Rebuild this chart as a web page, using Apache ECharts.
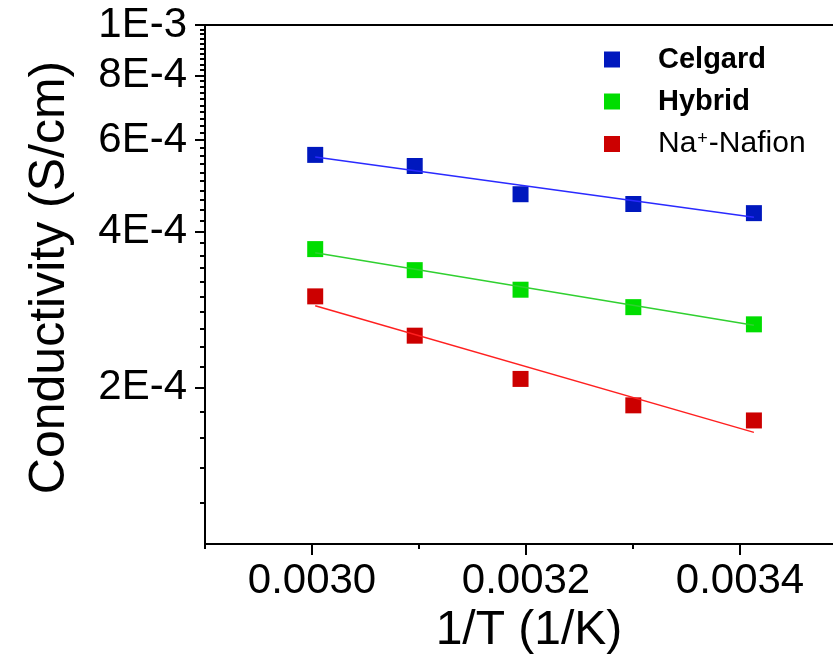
<!DOCTYPE html>
<html>
<head>
<meta charset="utf-8">
<script src="https://cdn.jsdelivr.net/npm/echarts@6/dist/echarts.min.js"></script>
<style>
html,body{margin:0;padding:0;background:#fff;}
#chart{width:833px;height:663px;}
</style>
</head>
<body>
<div id="chart"></div>
<script>
// ---- data ----
const invT = [0.0030030, 0.0030960, 0.0031949, 0.0033003, 0.0034130];
const celgard = [5.62e-4, 5.35e-4, 4.72e-4, 4.52e-4, 4.34e-4];
const hybrid  = [3.70e-4, 3.37e-4, 3.09e-4, 2.86e-4, 2.65e-4];
const nafion  = [3.00e-4, 2.52e-4, 2.08e-4, 1.85e-4, 1.73e-4];
// linear fits (end points)
const fitX = [0.0030030, 0.0034130];
const celgardFit = [5.57e-4, 4.26e-4];
const hybridFit  = [3.64e-4, 2.64e-4];
const nafionFit  = [2.877e-4, 1.641e-4];
// ticks
const xMajorTicks = [0.0030, 0.0032, 0.0034];
const xMinorTicks = [0.0029, 0.0031, 0.0033, 0.0035];
const yMajorTicks = [2e-4, 4e-4, 6e-4, 8e-4, 1e-3];
const yMinorTicks = [1.2e-4,1.4e-4,1.6e-4,1.8e-4,
  2.2e-4,2.4e-4,2.6e-4,2.8e-4,3.0e-4,3.2e-4,3.4e-4,3.6e-4,3.8e-4,
  4.2e-4,4.4e-4,4.6e-4,4.8e-4,5.0e-4,5.2e-4,5.4e-4,5.6e-4,5.8e-4,
  6.2e-4,6.4e-4,6.6e-4,6.8e-4,7.0e-4,7.2e-4,7.4e-4,7.6e-4,7.8e-4,
  8.2e-4,8.4e-4,8.6e-4,8.8e-4,9.0e-4,9.2e-4,9.4e-4,9.6e-4,9.8e-4];
const names = ['Celgard', 'Hybrid', 'Na+-Nafion'];

const FONT = 'Liberation Sans, Arial, sans-serif';
const markerColors = ['#0018BE', '#00DD00', '#CC0000'];
const lineColors = ['#2A2AFF', '#30D030', '#FF2020'];

function pairs(xs, ys){ return xs.map((x,i)=>[x, ys[i]]); }
function sci(v){
  const e = Math.floor(Math.log10(v) + 1e-9);
  const m = Math.round(v / Math.pow(10, e));
  return m + 'E' + e;
}

const chart = echarts.init(document.getElementById('chart'), null, {renderer:'canvas'});
const yCommon = {type:'log', logBase:10, min:1e-4, max:1e-3};
const xCommon = {type:'value', min:0.0029, max:0.0035};

const option = {
  backgroundColor:'#fff',
  animation:false,
  grid:{left:205, top:25, right:-14, bottom:119, containLabel:false, outerBoundsMode:'none'},
  legend:{
    data:names,
    orient:'vertical',
    left:599, top:40,
    itemWidth:16, itemHeight:16,
    itemGap:13,
    icon:'rect',
    textStyle:{
      fontFamily:FONT, color:'#000', fontSize:28,
      rich:{
        b:{fontFamily:FONT, fontWeight:'bold', fontSize:29, color:'#000', padding:[0,0,0,33], lineHeight:28},
        n0:{fontFamily:FONT, fontSize:30, color:'#000', padding:[0,0,0,33], lineHeight:28},
        n:{fontFamily:FONT, fontSize:30, color:'#000', lineHeight:28},
        sup:{fontFamily:FONT, fontSize:18, color:'#000', verticalAlign:'top', lineHeight:28, padding:[0,1,12,1]}
      }
    },
    formatter: function(name){
      if (name === 'Na+-Nafion') return '{n0|Na}{sup|+}{n|-Nafion}';
      return '{b|' + name + '}';
    }
  },
  xAxis:[
    Object.assign({}, xCommon, {
      position:'bottom',
      name:'1/T (1/K)', nameLocation:'middle', nameGap:56,
      nameTextStyle:{fontFamily:FONT, fontSize:48, color:'#000', padding:[0,0,0,6]},
      axisLine:{show:true, onZero:false, lineStyle:{color:'#000', width:2}},
      axisTick:{show:true, inside:false, length:11, customValues:xMajorTicks, lineStyle:{color:'#000', width:2}},
      axisLabel:{show:true, customValues:xMajorTicks, margin:16, fontFamily:FONT, fontSize:42, color:'#000',
        formatter:v=>v.toFixed(4)},
      splitLine:{show:false}
    }),
    Object.assign({}, xCommon, {
      position:'bottom',
      axisLine:{show:false, onZero:false},
      axisTick:{show:true, inside:false, length:5, customValues:xMinorTicks, lineStyle:{color:'#000', width:2}},
      axisLabel:{show:false},
      splitLine:{show:false}
    }),
    Object.assign({}, xCommon, {
      position:'top',
      axisLine:{show:true, onZero:false, lineStyle:{color:'#000', width:2}},
      axisTick:{show:false}, axisLabel:{show:false}, splitLine:{show:false}
    })
  ],
  yAxis:[
    Object.assign({}, yCommon, {
      position:'left',
      name:'Conductivity (S/cm)', nameLocation:'middle', nameGap:130,
      nameTextStyle:{fontFamily:FONT, fontSize:50, color:'#000', padding:[0,0,0,14]},
      axisLine:{show:true, onZero:false, lineStyle:{color:'#000', width:2}},
      axisTick:{show:true, inside:false, length:10, customValues:yMajorTicks, lineStyle:{color:'#000', width:2}},
      axisLabel:{show:true, customValues:yMajorTicks, margin:18, fontFamily:FONT, fontSize:42, color:'#000',
        formatter:sci},
      splitLine:{show:false}, minorTick:{show:false}
    }),
    Object.assign({}, yCommon, {
      position:'left',
      axisLine:{show:false, onZero:false},
      axisTick:{show:true, inside:false, length:5, customValues:yMinorTicks, lineStyle:{color:'#000', width:2}},
      axisLabel:{show:false}, splitLine:{show:false}
    })
  ],
  series:[
    {name:names[0], type:'scatter', data:pairs(invT, celgard), symbol:'rect', symbolSize:16, itemStyle:{color:markerColors[0], opacity:1}, z:2},
    {name:names[1], type:'scatter', data:pairs(invT, hybrid), symbol:'rect', symbolSize:16, itemStyle:{color:markerColors[1], opacity:1}, z:2},
    {name:names[2], type:'scatter', data:pairs(invT, nafion), symbol:'rect', symbolSize:16, itemStyle:{color:markerColors[2], opacity:1}, z:2},
    {name:'Celgard fit', type:'line', data:pairs(fitX, celgardFit), showSymbol:false, symbol:'none', lineStyle:{color:lineColors[0], width:1.5}, z:3},
    {name:'Hybrid fit', type:'line', data:pairs(fitX, hybridFit), showSymbol:false, symbol:'none', lineStyle:{color:lineColors[1], width:1.5}, z:3},
    {name:'Nafion fit', type:'line', data:pairs(fitX, nafionFit), showSymbol:false, symbol:'none', lineStyle:{color:lineColors[2], width:1.5}, z:3}
  ]
};
chart.setOption(option);
</script>
</body>
</html>
